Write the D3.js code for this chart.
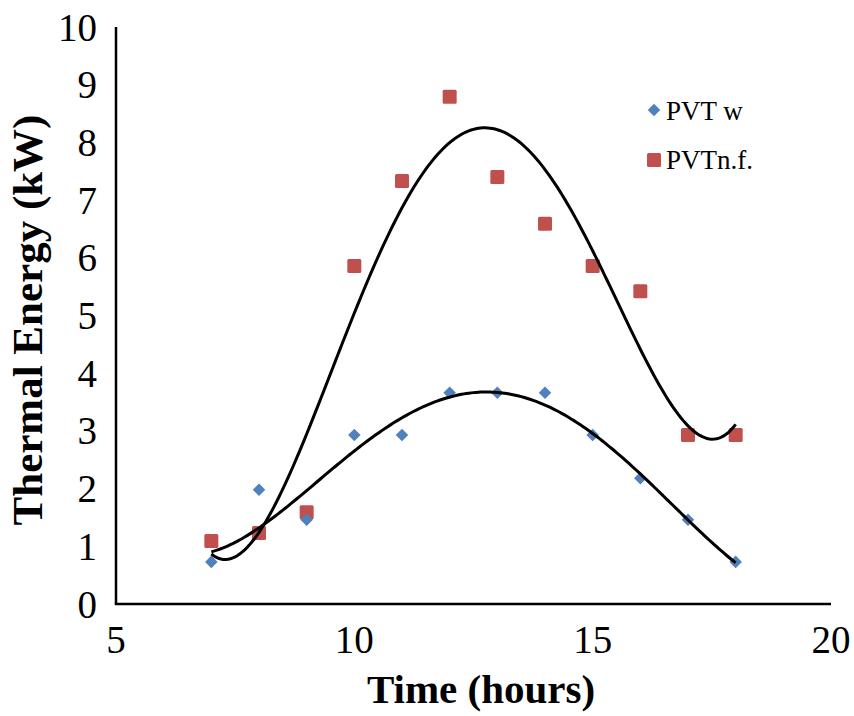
<!DOCTYPE html>
<html>
<head>
<meta charset="utf-8">
<script src="https://cdn.jsdelivr.net/npm/d3@7"></script>
<style>
  body { margin: 0; background: #fff; }
  svg { display: block; }
</style>
</head>
<body>
<svg id="chart" width="854" height="716"></svg>
<script>
// Hourly thermal energy output of the two collectors
const hours = [7, 8, 9, 10, 11, 12, 13, 14, 15, 16, 17, 18];
const pvtW  = [0.73, 1.98, 1.46, 2.93, 2.93, 3.66, 3.66, 3.66, 2.93, 2.18, 1.46, 0.73];
const pvtNF = [1.09, 1.23, 1.59, 5.86, 7.33, 8.79, 7.40, 6.59, 5.86, 5.42, 2.93, 2.93];
const seriesNames = ["PVT w", "PVTn.f."];
const xTicks = [5, 10, 15, 20];
const yTicks = [0, 1, 2, 3, 4, 5, 6, 7, 8, 9, 10];

// Polynomial trendline values, every half hour from 7 to 18
const trendHours = [7, 7.5, 8, 8.5, 9, 9.5, 10, 10.5, 11, 11.5, 12, 12.5,
                    13, 13.5, 14, 14.5, 15, 15.5, 16, 16.5, 17, 17.5, 18];
const trendW  = [0.91, 1.07, 1.31, 1.62, 1.96, 2.32, 2.65, 2.97, 3.24, 3.45, 3.59, 3.65,
                 3.65, 3.58, 3.43, 3.24, 3.01, 2.64, 2.21, 1.84, 1.47, 1.09, 0.70];
const trendNF = [0.91, 0.77, 1.12, 2.08, 3.12, 3.92, 4.99, 5.98, 6.86, 7.58, 7.98, 8.22,
                 8.21, 7.98, 7.56, 6.98, 6.12, 5.15, 4.37, 3.72, 3.11, 2.86, 3.10];

const svg = d3.select("#chart");
const x = d3.scaleLinear().domain([5, 20]).range([116, 831]);
const y = d3.scaleLinear().domain([0, 10]).range([604, 27]);

// Least-squares polynomial through the trendline values, for a smooth stroke
function polyFit(xs, ys, order) {
  const c = d3.mean(xs), s = (d3.max(xs) - d3.min(xs)) / 2;
  const n = order + 1;
  const A = Array.from({length: n}, () => new Array(n + 1).fill(0));
  xs.forEach((v, k) => {
    const t = (v - c) / s;
    for (let i = 0; i < n; i++) {
      for (let j = 0; j < n; j++) A[i][j] += Math.pow(t, i + j);
      A[i][n] += Math.pow(t, i) * ys[k];
    }
  });
  for (let i = 0; i < n; i++) {
    let p = i;
    for (let r = i + 1; r < n; r++) if (Math.abs(A[r][i]) > Math.abs(A[p][i])) p = r;
    [A[i], A[p]] = [A[p], A[i]];
    for (let r = 0; r < n; r++) {
      if (r === i) continue;
      const f = A[r][i] / A[i][i];
      for (let k = i; k <= n; k++) A[r][k] -= f * A[i][k];
    }
  }
  const coef = A.map((row, i) => row[n] / row[i]);
  return v => {
    const t = (v - c) / s;
    return coef.reduce((acc, a, i) => acc + a * Math.pow(t, i), 0);
  };
}

function sampled(fn) {
  return d3.range(7, 18.0001, 0.05).map(v => [v, fn(v)]);
}

const line = d3.line().x(d => x(d[0])).y(d => y(d[1]));

// Axes (lines and labels only)
svg.append("line").attr("x1", x(5)).attr("x2", x(5)).attr("y1", y(10)).attr("y2", y(0))
  .attr("stroke", "#000").attr("stroke-width", 2.5);
svg.append("line").attr("x1", x(5) - 1.25).attr("x2", x(20)).attr("y1", y(0)).attr("y2", y(0))
  .attr("stroke", "#000").attr("stroke-width", 2.5);

const font = "'Liberation Serif', 'Times New Roman', serif";

svg.append("g").selectAll("text").data(yTicks).join("text")
  .attr("x", 97).attr("y", d => y(d) + 13.5)
  .attr("text-anchor", "end")
  .attr("font-family", font).attr("font-size", 39)
  .text(d => d);

svg.append("g").selectAll("text").data(xTicks).join("text")
  .attr("x", d => x(d)).attr("y", 653)
  .attr("text-anchor", "middle")
  .attr("font-family", font).attr("font-size", 39)
  .text(d => d);

svg.append("text")
  .attr("x", 481).attr("y", 703)
  .attr("text-anchor", "middle")
  .attr("font-family", font).attr("font-size", 41).attr("font-weight", "bold")
  .text("Time (hours)");

svg.append("text")
  .attr("transform", "translate(42,320) rotate(-90)")
  .attr("text-anchor", "middle")
  .attr("font-family", font).attr("font-size", 43).attr("font-weight", "bold")
  .text("Thermal Energy (kW)");

// Markers
const blue = "#4F81BD", red = "#C0504D";
const diamond = d3.symbol().type(d3.symbolDiamond2).size(100);

svg.append("g").selectAll("rect").data(hours).join("rect")
  .attr("x", d => x(d) - 7).attr("y", (d, i) => y(pvtNF[i]) - 7)
  .attr("width", 14).attr("height", 14).attr("rx", 1.5)
  .attr("fill", red);

svg.append("g").selectAll("path").data(hours).join("path")
  .attr("transform", (d, i) => `translate(${x(d)},${y(pvtW[i])})`)
  .attr("d", diamond)
  .attr("fill", blue);

// Trendlines
svg.append("path").datum(sampled(polyFit(trendHours, trendNF, 6)))
  .attr("d", line).attr("fill", "none").attr("stroke", "#000").attr("stroke-width", 3);
svg.append("path").datum(sampled(polyFit(trendHours, trendW, 4)))
  .attr("d", line).attr("fill", "none").attr("stroke", "#000").attr("stroke-width", 3);

// Legend
const legend = svg.append("g");
legend.append("path").attr("transform", "translate(654,110)").attr("d", diamond).attr("fill", blue);
legend.append("rect").attr("x", 647).attr("y", 153).attr("width", 14).attr("height", 14).attr("rx", 1.5).attr("fill", red);
legend.append("text").attr("x", 666).attr("y", 120)
  .attr("font-family", font).attr("font-size", 27).text(seriesNames[0]);
legend.append("text").attr("x", 666).attr("y", 169)
  .attr("font-family", font).attr("font-size", 27).text(seriesNames[1]);
</script>
</body>
</html>
